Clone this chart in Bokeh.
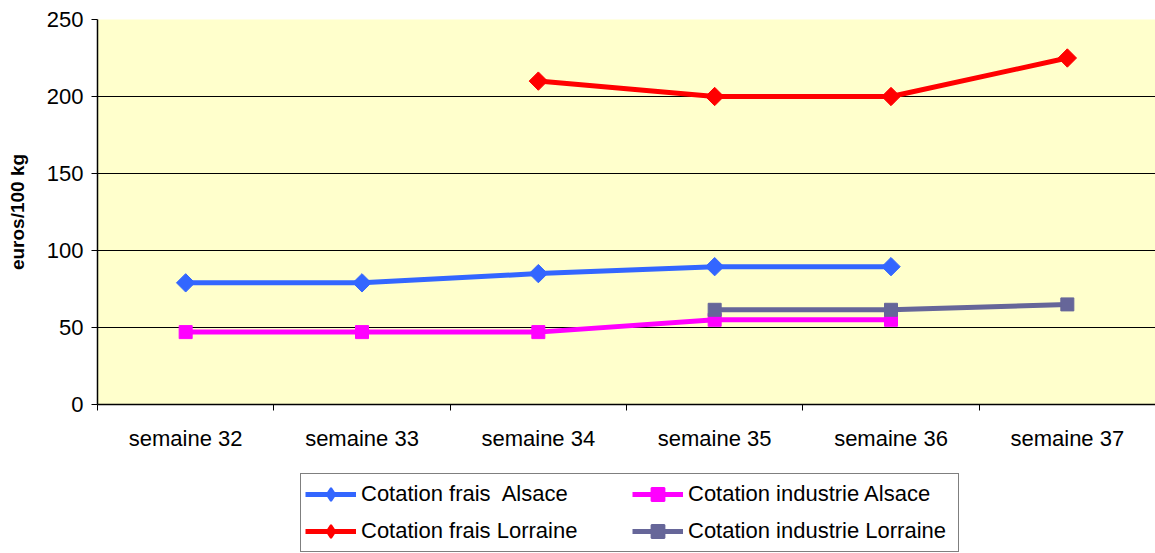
import math
from bokeh.plotting import figure
from bokeh.layouts import column
from bokeh.models import (Range1d, FixedTicker, Legend, LegendItem, ColumnDataSource)
from bokeh.embed import file_html
from bokeh.resources import INLINE

weeks = ["semaine 32", "semaine 33", "semaine 34", "semaine 35", "semaine 36", "semaine 37"]
frais_alsace = [79, 79, 85, 89.5, 89.5, None]
industrie_alsace = [47, 47, 47, 55, 55, None]
frais_lorraine = [None, None, 210, 200, 200, 225]
industrie_lorraine = [None, None, None, 61.5, 61.5, 65]
y_ticks = [0, 50, 100, 150, 200, 250]

FONT = "Liberation Sans"

p = figure(width=1155, height=470, output_backend="svg", toolbar_location=None,
           x_range=Range1d(0, len(weeks)), y_range=Range1d(0, 250),
           min_border_left=97, min_border_top=19, min_border_right=0, min_border_bottom=66)
p.background_fill_color = "#FFFFCC"
p.border_fill_color = "white"
p.outline_line_color = None

centers = [i + 0.5 for i in range(len(weeks))]
p.xaxis.ticker = FixedTicker(ticks=centers, minor_ticks=list(range(len(weeks) + 1)))
p.xaxis.major_label_overrides = {c: w for c, w in zip(centers, weeks)}
p.xaxis.major_tick_out = 0
p.xaxis.major_tick_in = 0
p.xaxis.minor_tick_out = 6
p.xaxis.minor_tick_in = 0
p.xaxis.minor_tick_line_color = "black"
p.xaxis.axis_line_color = "black"
p.xaxis.axis_line_width = 1.5
p.xaxis.major_label_text_font = FONT
p.xaxis.major_label_text_font_size = "22px"
p.xaxis.major_label_text_color = "black"
p.xaxis.major_label_standoff = 15

p.yaxis.ticker = FixedTicker(ticks=y_ticks)
p.yaxis.minor_tick_out = 0
p.yaxis.minor_tick_in = 0
p.yaxis.major_tick_out = 6
p.yaxis.major_tick_in = 0
p.yaxis.major_tick_line_color = "black"
p.yaxis.axis_line_color = "black"
p.yaxis.axis_line_width = 1.5
p.yaxis.major_label_text_font = FONT
p.yaxis.major_label_text_font_size = "22px"
p.yaxis.major_label_text_color = "black"
p.yaxis.major_label_standoff = 8
p.yaxis.axis_label = "euros/100 kg"
p.yaxis.axis_label_text_font = FONT
p.yaxis.axis_label_text_font_size = "19px"
p.yaxis.axis_label_text_font_style = "bold"
p.yaxis.axis_label_text_color = "black"
p.yaxis.axis_label_standoff = 16

p.xgrid.grid_line_color = None
p.ygrid.grid_line_color = "black"
p.ygrid.grid_line_width = 1
p.ygrid.grid_line_alpha = 1

# legend-only figure below the chart (its ranges keep the proxy glyphs off-screen)
p2 = figure(width=1155, height=83, output_backend="svg", toolbar_location=None,
            x_range=Range1d(-20, -19), y_range=Range1d(-20, -19),
            min_border_left=0, min_border_top=0, min_border_right=0, min_border_bottom=0)
p2.axis.visible = False
p2.grid.visible = False
p2.outline_line_color = None
p2.background_fill_color = "white"
p2.border_fill_color = "white"

def seg(vals):
    xs = [c for c, v in zip(centers, vals) if v is not None]
    ys = [v for v in vals if v is not None]
    return ColumnDataSource(dict(x=xs, y=ys))

series = [
    ("Cotation frais  Alsace", frais_alsace, "#3366FF", "diamond"),
    ("Cotation industrie Alsace", industrie_alsace, "#FF00FF", "square"),
    ("Cotation frais Lorraine", frais_lorraine, "#FF0000", "diamond"),
    ("Cotation industrie Lorraine", industrie_lorraine, "#666699", "square"),
]
items = []
for name, vals, col, mk in series:
    src = seg(vals)
    ang = math.pi / 4 if mk == "diamond" else 0
    p.line("x", "y", source=src, line_color=col, line_width=5)
    p.scatter("x", "y", source=src, marker="square", size=13, angle=ang,
              fill_color=col, line_color=col)
    l2 = p2.line("x", "y", source=src, line_color=col, line_width=5)
    m2 = p2.scatter("x", "y", source=src, marker=mk, size=13,
                    fill_color=col, line_color=col, line_width=2)
    items.append(LegendItem(label=name, renderers=[l2, m2]))

legend = Legend(items=items, location=(203, 1), orientation="horizontal", nrows=2,
                label_text_font=FONT, label_text_font_size="22px", label_text_color="black",
                glyph_width=51, glyph_height=32, label_height=22, label_width=266,
                label_standoff=5, spacing=5, padding=4,
                border_line_color="black", border_line_width=1, background_fill_color="white",
                background_fill_alpha=1, margin=0)
p2.add_layout(legend, "center")

layout = column(p, p2, spacing=0)
open("out.html", "w").write(file_html(layout, INLINE))
